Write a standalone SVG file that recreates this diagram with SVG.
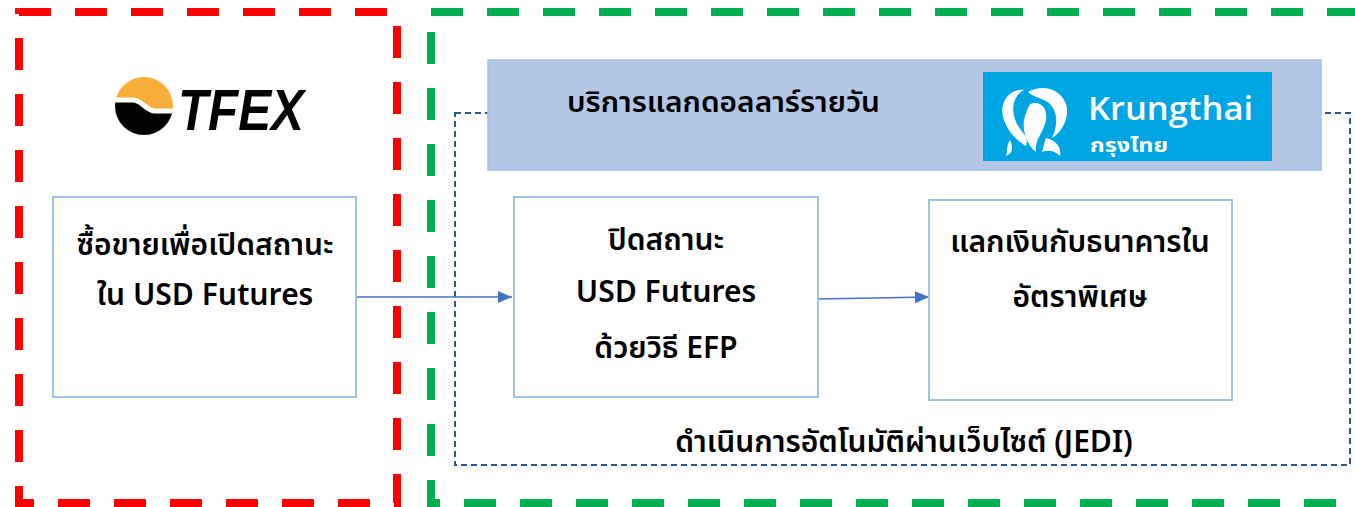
<svg xmlns="http://www.w3.org/2000/svg" width="1355" height="507" viewBox="0 0 1355 507">
<defs>
<style>
.zone{fill:none;stroke-width:8;stroke-dasharray:32 24}
.box{fill:#fff;stroke:#9DC3E6;stroke-width:2}
.t{font-family:"Noto Sans Thai","Noto Sans","DejaVu Sans",sans-serif;font-weight:600;fill:#000;text-anchor:middle}
.conn{stroke:#4472C4;stroke-width:1.5;fill:none}
</style>
<marker id="arr" viewBox="0 0 14 12" refX="14" refY="6" markerWidth="14" markerHeight="12" markerUnits="userSpaceOnUse" orient="auto">
<path d="M0,0 L14,6 L0,12 z" fill="#4472C4"/>
</marker>
<clipPath id="tc"><circle cx="144" cy="106" r="29"/></clipPath>
</defs>
<rect width="1355" height="507" fill="#fff"/>
<g id="zone-tfex"><rect class="zone" x="19" y="12" width="378" height="491" stroke="#FF0000"/></g>
<g id="zone-ktb"><rect class="zone" x="431" y="12" width="935" height="491" stroke="#00B050"/></g>
<g id="jedi">
<rect x="455" y="113" width="895" height="352" fill="none" stroke="#2F5597" stroke-width="2" stroke-dasharray="6 4"/>
<text class="t" x="904" y="452" font-size="30">ดำเนินการอัตโนมัติผ่านเว็บไซต์ (JEDI)</text>
</g>
<g id="header">
<rect x="488" y="60" width="833" height="110" fill="#B4C7E7" stroke="#9DC3E6" stroke-width="1.5"/>
<text class="t" x="567" y="112" font-size="29" textLength="313" lengthAdjust="spacingAndGlyphs" style="text-anchor:start">บริการแลกดอลลาร์รายวัน</text>
</g>
<g id="logo-ktb">
<rect x="983" y="72" width="289" height="89" fill="#00A6E4"/>
<g fill="#fff">
<path d="M1004,120 C998,105 1008,88 1024,90 C1014,95 1010,108 1016,122 C1020,132 1030,136 1026,146 C1018,142 1008,132 1004,120 z"/>
<path d="M1028,92 C1042,84 1060,88 1066,104 C1070,118 1062,132 1052,138 C1058,126 1058,112 1050,104 C1044,98 1034,98 1028,92 z"/>
<path d="M1030,104 C1040,100 1048,108 1046,120 C1044,132 1034,140 1036,152 C1028,146 1022,132 1024,120 C1026,112 1028,108 1030,104 z"/>
<path d="M1046,138 C1056,140 1062,148 1060,156 C1054,150 1048,150 1042,152 C1044,146 1044,142 1046,138 z"/>
<path d="M1010,140 C1014,148 1012,154 1006,156 C1008,150 1006,146 1010,140 z"/>
</g>
<text x="1088" y="120" font-family="'Open Sans','Noto Sans',sans-serif" font-weight="600" font-size="32" textLength="165" lengthAdjust="spacingAndGlyphs" fill="#fff">Krungthai</text>
<text x="1090" y="152" font-family="'Noto Sans Thai','Noto Sans',sans-serif" font-weight="700" font-size="20" textLength="78" lengthAdjust="spacingAndGlyphs" fill="#fff">กรุงไทย</text>
</g>
<g id="logo-tfex">
<g clip-path="url(#tc)">
<rect x="110" y="70" width="70" height="72" fill="#F9AE3A"/>
<path d="M110,102 L133,102 C142,102 146,113 155,113 L180,113 L180,142 L110,142 z" fill="#000"/>
<path d="M110,100 L133,100 C142,100 146,111 155,111 L180,111" stroke="#fff" stroke-width="5" fill="none"/>
</g>
<text x="178" y="130" font-family="'Liberation Sans',Arial,sans-serif" font-weight="700" font-style="italic" font-size="57" textLength="126" lengthAdjust="spacingAndGlyphs" fill="#000">TFEX</text>
</g>
<g id="connectors">
<path class="conn" d="M356,297 L512,297" marker-end="url(#arr)"/>
<path class="conn" d="M818,299 L929,297" marker-end="url(#arr)"/>
</g>
<g id="box-open">
<rect class="box" x="53" y="197" width="303" height="200"/>
<text class="t" x="205" y="255" font-size="30">ซื้อขายเพื่อเปิดสถานะ</text>
<text class="t" x="205" y="305" font-size="30">ใน USD Futures</text>
</g>
<g id="box-close">
<rect class="box" x="514" y="197" width="304" height="200"/>
<text class="t" x="666" y="250" font-size="30">ปิดสถานะ</text>
<text class="t" x="666" y="302" font-size="30">USD Futures</text>
<text class="t" x="666" y="358" font-size="30">ด้วยวิธี EFP</text>
</g>
<g id="box-exchange">
<rect class="box" x="929" y="200" width="303" height="200"/>
<text class="t" x="1080" y="252" font-size="30">แลกเงินกับธนาคารใน</text>
<text class="t" x="1080" y="307" font-size="30">อัตราพิเศษ</text>
</g>
</svg>
